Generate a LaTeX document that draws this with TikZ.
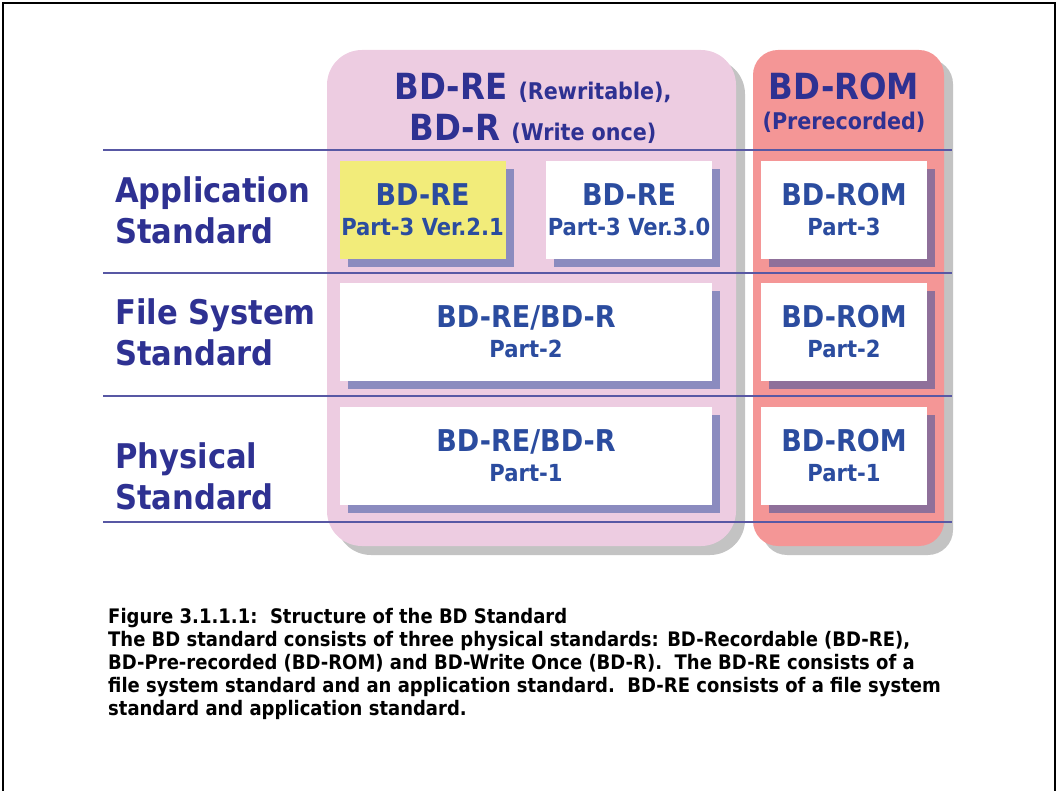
\documentclass[tikz,border=0pt]{standalone}
\usepackage{fontspec}
\setmainfont{DejaVu Sans Condensed}
\usetikzlibrary{shadows}
\definecolor{navy}{RGB}{46,49,146}
\definecolor{boxblue}{RGB}{43,76,159}
\definecolor{panelpink}{RGB}{237,204,225}
\definecolor{panelred}{RGB}{244,150,150}
\definecolor{panelshade}{RGB}{195,195,195}
\definecolor{partyellow}{RGB}{242,236,122}
\definecolor{rulecol}{RGB}{88,88,164}
\newcommand{\parthead}[1]{{\fontsize{30}{29}\selectfont #1}}
\newcommand{\headsub}[1]{{\fontsize{23}{28}\selectfont #1}}
\tikzset{
	stdbox/.style={fill=white, minimum width=166pt, minimum height=98pt, inner sep=0pt,
		align=center, text=boxblue, font=\bfseries\fontsize{23.5}{30}\selectfont,
		drop shadow={shadow xshift=8pt, shadow yshift=-8pt, fill=boxblue, opacity=0.5}},
	widebox/.style={stdbox, minimum width=372pt},
	rowname/.style={anchor=north west, inner sep=0pt, align=left, text=navy,
		font=\bfseries\fontsize{34}{41}\selectfont},
	headtext/.style={anchor=base, inner sep=0pt, text=navy, font=\bfseries\fontsize{36}{41}\selectfont},
	hrule/.style={rulecol, line width=1.5pt}
}

\begin{document}
\begin{tikzpicture}[x=1pt, y=-1pt]
		%%%%% START %%%%%
		\useasboundingbox (0,0) rectangle (1058,791);
		\draw[line width=2pt] (3,791) -- (3,3) -- (1055,3) -- (1055,791);
		
		% panels
		\fill[panelshade, rounded corners=35pt] (336,59) rectangle (745,555);
		\fill[panelpink, rounded corners=35pt] (327,50) rectangle (736,546);
		\fill[panelshade, rounded corners=25pt] (762,59) rectangle (953,555);
		\fill[panelred, rounded corners=25pt] (753,50) rectangle (944,546);
		
		\node[headtext] (rehead) at (533,100) {BD-RE \headsub{(Rewritable),}};
		\node[headtext] (rhead) at (533,141) {BD-R \headsub{(Write once)}};
		\node[headtext] (romhead) at (844,100) {BD-ROM};
		\node[headtext, font=\bfseries\fontsize{23}{28}\selectfont] (romsub) at (844,130) {(Prerecorded)};
		
		% rows
		\draw[hrule] (103,150) -- (952,150);
		\draw[hrule] (103,273) -- (952,273);
		\draw[hrule] (103,396) -- (952,396);
		\draw[hrule] (103,522) -- (952,522);
		
		\node[rowname] (appstd) at (115,176) {Application\\Standard};
		\node[rowname] (fsstd) at (115,298) {File System\\Standard};
		\node[rowname] (phystd) at (115,442) {Physical\\Standard};
		
		\node[stdbox, fill=partyellow] (re21) at (422.5,210) {\parthead{BD-RE}\\Part-3 Ver.2.1};
		\node[stdbox] (re30) at (629,210) {\parthead{BD-RE}\\Part-3 Ver.3.0};
		\node[stdbox] (rom3) at (844,210) {\parthead{BD-ROM}\\Part-3};
		\node[widebox] (fs) at (526,332) {\parthead{BD-RE/BD-R}\\Part-2};
		\node[stdbox] (rom2) at (844,332) {\parthead{BD-ROM}\\Part-2};
		\node[widebox] (phy) at (526,456) {\parthead{BD-RE/BD-R}\\Part-1};
		\node[stdbox] (rom1) at (844,456) {\parthead{BD-ROM}\\Part-1};
		
		% caption
		\node[anchor=north west, inner sep=0pt, align=left, font=\bfseries\fontsize{20}{23}\selectfont] (caption) at (108,608)
			{Figure 3.1.1.1:\ \ Structure of the BD Standard\\
			 The BD standard consists of three physical standards: BD-Recordable (BD-RE),\\
			 BD-Pre-recorded (BD-ROM) and BD-Write Once (BD-R).\ \ The BD-RE consists of a\\
			 file system standard and an application standard.\ \ BD-RE consists of a file system\\
			 standard and application standard.};
		%%%%% END %%%%%
\end{tikzpicture}
\end{document}
